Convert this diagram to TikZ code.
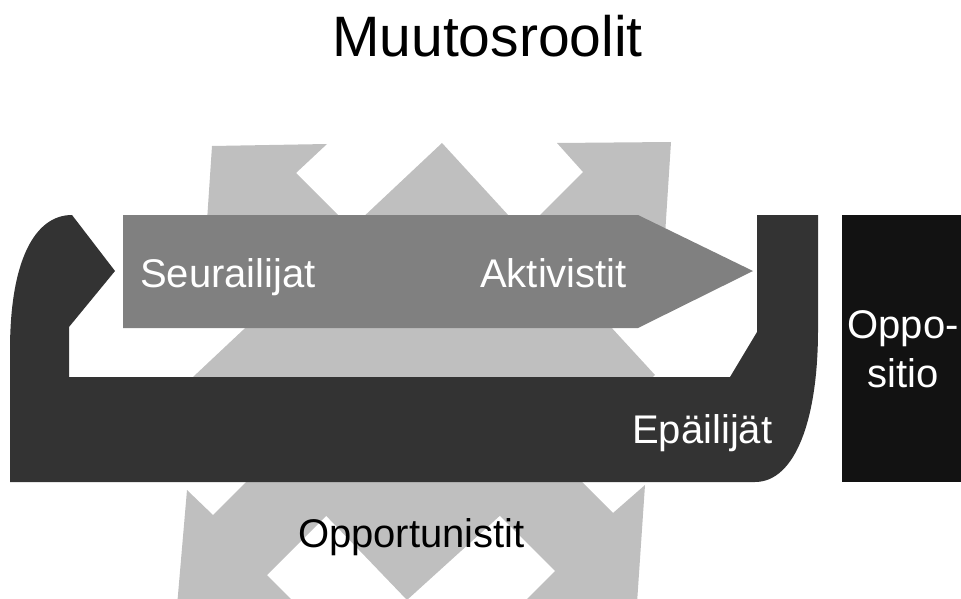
\documentclass[tikz,border=0pt]{standalone}
\usepackage{fontspec}
\setmainfont{Liberation Sans}
\definecolor{lightg}{HTML}{BFBFBF}
\definecolor{midg}{HTML}{808080}
\definecolor{darkg}{HTML}{333333}
\definecolor{boxg}{HTML}{121212}
\begin{document}
\begin{tikzpicture}[x=1pt,y=-1pt,
  lbl/.style={inner sep=0pt, font=\fontsize{40}{48}\selectfont},
  wlbl/.style={lbl, text=white}]
\useasboundingbox (0,0) rectangle (961,599);
\begin{scope}
\clip (0,0) rectangle (961,599);
% light gray quad-arrow shape
\fill[lightg] (442,143) -- (655,375) -- (407,600) -- (193,377) -- cycle;
\fill[lightg] (212,146) -- (327,144) -- (296,173) -- (400,277) -- (300,292) -- (239,231) -- (204,266) -- cycle;
\fill[lightg] (671,142) -- (664,251) -- (640,227) -- (560,307) -- (480,275) -- (583,172) -- (557,143) -- cycle;
\fill[lightg] (187,490) -- (213,515) -- (330,398) -- (380,462) -- (267,575) -- (310,618) -- (176,618) -- cycle;
\fill[lightg] (645,485) -- (636,618) -- (508,618) -- (555,571) -- (440,456) -- (520,420) -- (613,513) -- cycle;
% mid gray arrow
\fill[midg] (123,215) -- (638,215) -- (753,271) -- (638,328) -- (123,328) -- cycle;
% dark bent shape
\fill[darkg] (10,482) -- (10,350) .. controls (10,260) and (35,215) .. (72,215)
  -- (115,271) -- (69,327) -- (69,377) -- (730,377) -- (757,332) -- (757,215)
  -- (818,215) -- (818,330) .. controls (818,420) and (795,482) .. (755,482) -- cycle;
% opposition box
\fill[boxg] (842,215) rectangle (961,482);
\end{scope}
\node[inner sep=0pt, anchor=base, font=\fontsize{57}{68}\selectfont] (title) at (487.5,57) {Muutosroolit};
\node[wlbl, anchor=base west] (seur) at (140,287) {Seurailijat};
\node[wlbl, anchor=base west] (akt) at (480,287) {Aktivistit};
\node[wlbl, anchor=base west] (epa) at (632,443) {Epäilijät};
\node[wlbl, anchor=base] (opp1) at (903,338) {Oppo-};
\node[wlbl, anchor=base] (opp2) at (903,387) {sitio};
\node[lbl, anchor=base] (oppor) at (411.5,547) {Opportunistit};
\end{tikzpicture}
\end{document}
